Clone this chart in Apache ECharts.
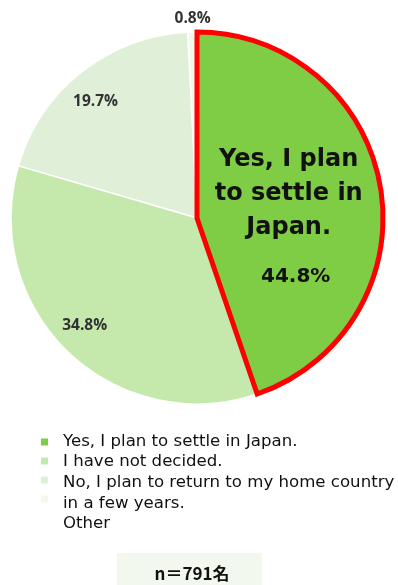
<!DOCTYPE html>
<html>
<head>
<meta charset="utf-8">
<script src="https://cdn.jsdelivr.net/npm/echarts@6/dist/echarts.min.js"></script>
<style>
  html, body { margin: 0; padding: 0; background: #ffffff; }
  #chart { width: 398px; height: 585px; }
</style>
</head>
<body>
<div id="chart"></div>
<script>
// Survey answers, in legend order
const categories = [
  'Yes, I plan to settle in Japan.',
  'I have not decided.',
  'No, I plan to return to my home country in a few years.',
  'Other'
];
const legendLines = [
  'Yes, I plan to settle in Japan.',
  'I have not decided.',
  'No, I plan to return to my home country',
  'in a few years.',
  'Other'
];
const shares = [44.8, 34.8, 19.7, 0.8];
const colors = ['#7fcc45', '#c5e9ad', '#e0efd7', '#f2f8ee'];
const sampleLabel = 'n＝791名';

const textFont = '"DejaVu Sans", sans-serif';
const jpFont = '"Noto Sans CJK JP", "Noto Sans", sans-serif';
const numFont = '"Open Sans", "Liberation Sans", sans-serif';

// Per-slice label styling
const labelStyles = [
  {
    offset: [-3, 23.5],
    formatter: '{big|Yes, I plan\nto settle in\nJapan.}\n{pct|{c}%}',
    rich: {
      big: { fontFamily: textFont, fontSize: 24, fontWeight: 'bold', lineHeight: 34, color: '#111', align: 'center' },
      pct: { fontFamily: textFont, fontSize: 20, fontWeight: 'bold', lineHeight: 64, color: '#111', align: 'center', padding: [0, 0, 0, 14] }
    }
  },
  { offset: [-46, 38] },
  { offset: [-42, -41] },
  { offset: [-2, -103] }
];

const chart = echarts.init(document.getElementById('chart'));

// Slices are listed counter-clockwise so the highlighted slice is drawn last (on top)
const pieData = categories.map((name, i) => {
  const item = {
    name: name,
    value: shares[i],
    itemStyle: { color: colors[i], borderColor: '#ffffff', borderWidth: 1.5 },
    label: Object.assign({
      show: true,
      position: 'inside',
      formatter: '{c}%',
      fontFamily: numFont,
      fontSize: 15.5,
      fontWeight: 'bold',
      color: '#333'
    }, labelStyles[i])
  };
  if (i === 0) {
    item.itemStyle = { color: colors[0], borderColor: '#ff0000', borderWidth: 5, borderJoin: 'miter' };
  }
  return item;
}).reverse();

chart.setOption({
  backgroundColor: '#ffffff',
  animation: false,
  color: colors,
  legend: {
    data: categories,
    orient: 'vertical',
    left: 36,
    top: 433.5,
    itemWidth: 7,
    itemHeight: 7,
    itemGap: 12,
    icon: 'rect',
    itemStyle: { borderWidth: 0 },
    formatter: () => '',
    textStyle: { fontSize: 1, padding: 0 },
    selectedMode: false
  },
  series: [{
    type: 'pie',
    center: [197, 218],
    radius: [0, 186],
    startAngle: 90,
    clockwise: false,
    avoidLabelOverlap: false,
    labelLine: { show: false },
    emphasis: { disabled: true },
    data: pieData
  }],
  graphic: [
    {
      type: 'text',
      left: 63,
      top: 431,
      style: {
        text: legendLines.join('\n'),
        fontFamily: textFont,
        fontSize: 16.6,
        lineHeight: 20.7,
        fill: '#111'
      }
    },
    {
      type: 'group',
      left: 117,
      top: 553,
      children: [
        { type: 'rect', shape: { x: 0, y: 0, width: 145, height: 40 }, style: { fill: '#f2f8ee' } },
        {
          type: 'text',
          x: 75,
          y: 21,
          style: {
            text: sampleLabel,
            fontFamily: jpFont,
            fontSize: 17,
            fontWeight: 'bold',
            fill: '#111',
            align: 'center',
            verticalAlign: 'middle'
          }
        }
      ]
    }
  ]
});
</script>
</body>
</html>
